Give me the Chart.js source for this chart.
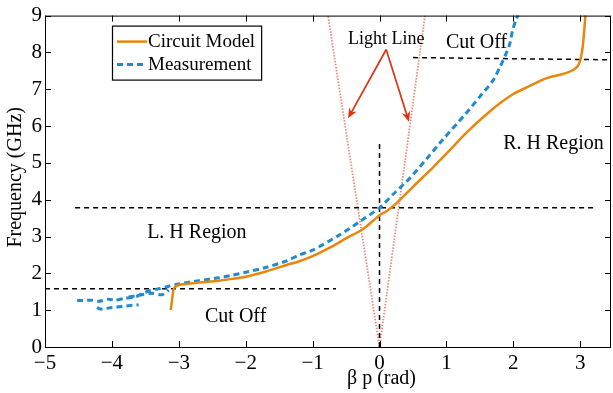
<!DOCTYPE html>
<html>
<head>
<meta charset="utf-8">
<script src="https://cdn.jsdelivr.net/npm/chart.js@4.4.0/dist/chart.umd.min.js"></script>
<style>
  html, body { margin: 0; padding: 0; background: #fff; }
  #caixa { width: 613px; height: 393px; position: relative; }
</style>
</head>
<body>
<div id="caixa"><canvas id="myChart"></canvas></div>
<script>

// dados (beta p em rad, frequencia em GHz)

const circuitBeta = [-3.12, -3.10, -3.08, -3.03, -2.9, -2.7, -2.4, -2.2, -2.0, -1.7, -1.4, -1.2, -1.0, -0.7, -0.5, -0.25, -0.05, 0, 0.1, 0.25, 0.5, 0.8, 1.0, 1.3, 1.6, 1.8, 2.0, 2.2, 2.5, 2.75, 2.9, 2.97, 3.01, 3.04, 3.06, 3.08]
const circuitFreq = [1.0, 1.3, 1.55, 1.66, 1.71, 1.75, 1.80, 1.85, 1.91, 2.05, 2.22, 2.33, 2.47, 2.74, 2.95, 3.2, 3.5, 3.58, 3.68, 3.9, 4.35, 4.88, 5.25, 5.82, 6.32, 6.62, 6.87, 7.05, 7.3, 7.42, 7.53, 7.65, 7.85, 8.2, 8.6, 9.05]

// medicao (null = quebra da linha)
const measBeta = [
  -4.22, -4.18, -4.0, -3.85, -3.6, null,
  -3.75, -3.55, -3.4, -3.25, -3.15, null,
  -4.52, -4.3, -4.2, -4.05, -3.95, -3.8, -3.65, -3.55, -3.45, -3.3, -3.15,
  -3.0, -2.7, -2.4, -2.2, -2.0, -1.7, -1.4, -1.2, -1.0, -0.6, -0.3, 0, 0.2, 0.45, 0.7, 0.95, 1.29, 1.5, 1.69, 1.8, 1.94, 1.99, 2.04, 2.08]
const measFreq = [
  1.08, 1.03, 1.07, 1.10, 1.15, null,
  1.36, 1.42, 1.46, 1.42, 1.55, null,
  1.26, 1.27, 1.24, 1.30, 1.27, 1.33, 1.36, 1.45, 1.52, 1.58, 1.65,
  1.71, 1.80, 1.88, 1.95, 2.03, 2.16, 2.33, 2.5, 2.63, 3.04, 3.4, 3.78, 4.14, 4.58, 5.1, 5.64, 6.34, 6.8, 7.22, 7.6, 8.19, 8.6, 8.89, 9.05]

// linhas tracejadas (corte e eixos)
const cutLowBeta = [-5, -0.65]
const cutLowFreq = [1.58, 1.58]
const midBeta = [-4.55, 3.25]
const midFreq = [3.78, 3.78]
const cutHighBeta = [0.5, 3.46]
const cutHighFreq = [7.86, 7.8]
const zeroBeta = [0, 0]
const zeroFreq = [0, 5.55]

// light line
const lightLeftBeta = [0, -0.77]
const lightRightBeta = [0, 0.68]
const lightFreq = [0, 9]

// ticks
const xTicks = [-5, -4, -3, -2, -1, 0, 1, 2, 3]
const yTicks = [0, 1, 2, 3, 4, 5, 6, 7, 8, 9]

// textos e setas (posicao em coordenadas do grafico)
const textos = [
  { t: 'Light Line', x: 0.1, y: 8.36, size: 18 },
  { t: 'Cut Off', x: 1.45, y: 8.27, size: 20 },
  { t: 'R. H Region', x: 2.6, y: 5.53, size: 20 },
  { t: 'L. H Region', x: -2.73, y: 3.09, size: 20 },
  { t: 'Cut Off', x: -2.15, y: 0.83, size: 20 }
]
const setas = [
  { x0: 0.1, y0: 8.08, x1: -0.47, y1: 6.21 },
  { x0: 0.1, y0: 8.08, x1: 0.44, y1: 6.12 }
]

const fonte = "'Liberation Serif', 'Times New Roman', serif"
const laranja = '#e8870c'
const azul = '#1f8bd0'

function pares(xs, ys) {
  return xs.map(function (x, i) {
    if (x === null || ys[i] === null) return { x: NaN, y: NaN }
    return { x: x, y: ys[i] }
  })
}

function menos(v) {
  return String(v).replace('-', '\u2212')
}

const extras = {
  id: 'extras',
  afterDatasetsDraw(chart) {
    const c = chart.ctx
    const a = chart.chartArea
    const sx = chart.scales.x
    const sy = chart.scales.y

    c.save()
    // caixa
    c.strokeStyle = '#000'
    c.lineWidth = 1
    c.strokeRect(a.left + 0.5, a.top + 0.5, a.right - a.left - 1, a.bottom - a.top)

    // ticks pra dentro
    c.beginPath()
    xTicks.forEach(function (v) {
      const px = Math.round(sx.getPixelForValue(v)) + 0.5
      c.moveTo(px, a.bottom); c.lineTo(px, a.bottom - 6)
      c.moveTo(px, a.top); c.lineTo(px, a.top + 6)
    })
    yTicks.forEach(function (v) {
      const py = Math.round(sy.getPixelForValue(v)) + 0.5
      c.moveTo(a.left, py); c.lineTo(a.left + 6, py)
      c.moveTo(a.right, py); c.lineTo(a.right - 6, py)
    })
    c.stroke()

    // setas
    c.strokeStyle = '#dd3311'
    c.fillStyle = '#dd3311'
    c.lineWidth = 1.7
    setas.forEach(function (s) {
      const x0 = sx.getPixelForValue(s.x0), y0 = sy.getPixelForValue(s.y0)
      const x1 = sx.getPixelForValue(s.x1), y1 = sy.getPixelForValue(s.y1)
      const ang = Math.atan2(y1 - y0, x1 - x0)
      c.beginPath()
      c.moveTo(x0, y0)
      c.lineTo(x1 - 6 * Math.cos(ang), y1 - 6 * Math.sin(ang))
      c.stroke()
      c.beginPath()
      c.moveTo(x1, y1)
      c.lineTo(x1 - 11 * Math.cos(ang - 0.4), y1 - 11 * Math.sin(ang - 0.4))
      c.lineTo(x1 - 7 * Math.cos(ang), y1 - 7 * Math.sin(ang))
      c.lineTo(x1 - 11 * Math.cos(ang + 0.4), y1 - 11 * Math.sin(ang + 0.4))
      c.closePath()
      c.fill()
    })

    // textos
    c.fillStyle = '#000'
    c.textAlign = 'center'
    c.textBaseline = 'middle'
    textos.forEach(function (t) {
      c.font = t.size + 'px ' + fonte
      c.fillText(t.t, sx.getPixelForValue(t.x), sy.getPixelForValue(t.y))
    })

    // titulos dos eixos
    c.font = '20px ' + fonte
    c.fillText('\u03b2 p (rad)', sx.getPixelForValue(0) + 2, 379)
    c.save()
    c.translate(16, (a.top + a.bottom) / 2 - 4)
    c.rotate(-Math.PI / 2)
    c.fillText('Frequency (GHz)', 0, 0)
    c.restore()

    // legenda
    c.font = '19px ' + fonte
    const itens = [
      { t: 'Circuit Model', cor: laranja, dash: [] },
      { t: 'Measurement', cor: azul, dash: [6, 4] }
    ]
    const lx = a.left + 67
    const ly = a.top + 10
    let w = 0
    itens.forEach(function (i) { w = Math.max(w, c.measureText(i.t).width) })
    const bw = 36 + w + 6
    const bh = 54
    c.fillStyle = '#fff'
    c.fillRect(lx, ly, bw, bh)
    c.strokeStyle = '#000'
    c.lineWidth = 1.2
    c.strokeRect(lx + 0.5, ly + 0.5, bw, bh)
    itens.forEach(function (i, k) {
      const yy = ly + 16 + k * 23
      c.strokeStyle = i.cor
      c.lineWidth = i.dash.length ? 3 : 2.5
      c.setLineDash(i.dash)
      c.beginPath()
      c.moveTo(lx + 5, yy); c.lineTo(lx + 35, yy)
      c.stroke()
      c.setLineDash([])
      c.fillStyle = '#000'
      c.textAlign = 'left'
      c.fillText(i.t, lx + 36, yy)
    })
    c.restore()
  }
}


const ctx = document.getElementById('myChart');

new Chart(ctx, {
  type: 'line',
  data: {
    datasets: [{
      label: 'Circuit Model',
      data: pares(circuitBeta, circuitFreq),
      borderColor: laranja,
      borderWidth: 2.5,
      cubicInterpolationMode: 'monotone'
    }, {
      label: 'Measurement',
      data: pares(measBeta, measFreq),
      borderColor: azul,
      borderWidth: 3,
      borderDash: [6, 4],
      tension: 0.25
    }, {
      label: 'corte baixo',
      data: pares(cutLowBeta, cutLowFreq),
      borderColor: '#000',
      borderWidth: 1.5,
      borderDash: [5, 4]
    }, {
      label: 'meio',
      data: pares(midBeta, midFreq),
      borderColor: '#000',
      borderWidth: 1.5,
      borderDash: [5, 4]
    }, {
      label: 'corte alto',
      data: pares(cutHighBeta, cutHighFreq),
      borderColor: '#000',
      borderWidth: 1.5,
      borderDash: [5, 4]
    }, {
      label: 'zero',
      data: pares(zeroBeta, zeroFreq),
      borderColor: '#000',
      borderWidth: 1.5,
      borderDash: [5, 4]
    }, {
      label: 'light esq',
      data: pares(lightLeftBeta, lightFreq),
      borderColor: '#ee8a74',
      borderWidth: 1.8,
      borderDash: [1.5, 1.5]
    }, {
      label: 'light dir',
      data: pares(lightRightBeta, lightFreq),
      borderColor: '#ee8a74',
      borderWidth: 1.8,
      borderDash: [1.5, 1.5]
    }]
  },
  options: {
    responsive: true,
    maintainAspectRatio: false,
    animation: false,
    spanGaps: false,
    elements: { point: { radius: 0 } },
    layout: { padding: { top: 6, right: 2, left: 0, bottom: 0 } },
    plugins: {
      legend: { display: false },
      tooltip: { enabled: false }
    },
    scales: {
      x: {
        type: 'linear',
        min: -5,
        max: 3.46,
        afterBuildTicks: function (s) { s.ticks = xTicks.map(function (v) { return { value: v } }) },
        afterFit: function (s) { s.height = 46 },
        grid: { display: false, drawTicks: false },
        border: { display: false },
        ticks: {
          color: '#000',
          padding: 4,
          maxRotation: 0,
          autoSkip: false,
          font: { family: fonte, size: 21 },
          callback: function (v) { return menos(v) }
        }
      },
      y: {
        type: 'linear',
        min: 0,
        max: 9,
        afterBuildTicks: function (s) { s.ticks = yTicks.map(function (v) { return { value: v } }) },
        afterFit: function (s) { s.width = 45 },
        grid: { display: false, drawTicks: false },
        border: { display: false },
        ticks: {
          color: '#000',
          padding: 3,
          autoSkip: false,
          font: { family: fonte, size: 21 },
          callback: function (v) { return menos(v) }
        }
      }
    }
  },
  plugins: [extras]
});

</script>
</body>
</html>
